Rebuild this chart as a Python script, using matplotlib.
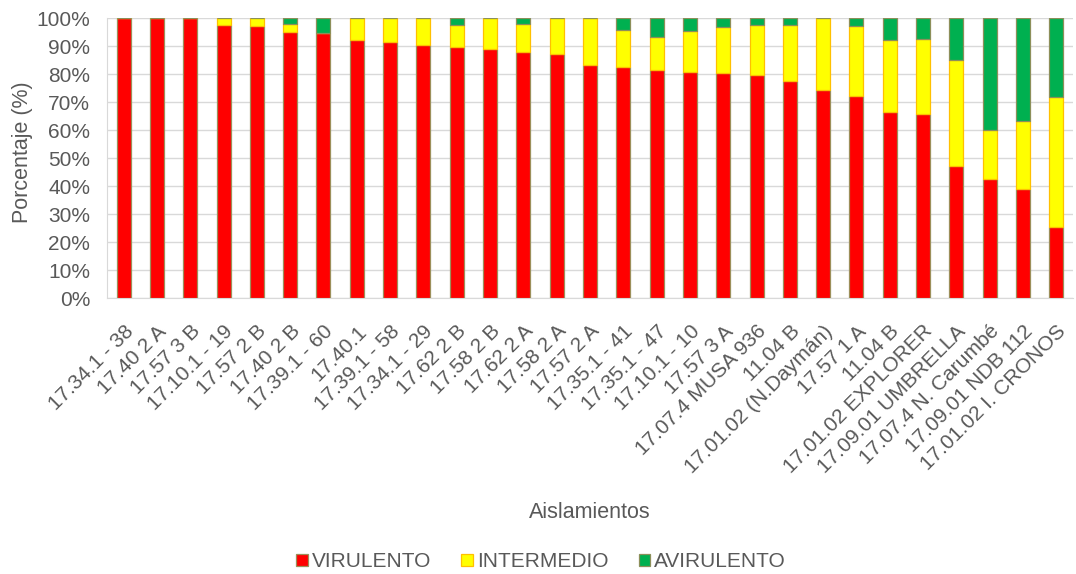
import matplotlib.pyplot as plt
import numpy as np

plt.rcParams['font.family'] = ['Liberation Sans', 'DejaVu Sans']

# Aislamientos y porcentajes por categoría
aislamientos = [
    "17.34.1 - 38", "17.40 2 A", "17.57 3 B", "17.10.1 - 19", "17.57 2 B",
    "17.40 2 B", "17.39.1 - 60", "17.40.1", "17.39.1 - 58", "17.34.1 - 29",
    "17.62 2 B", "17.58 2 B", "17.62 2 A", "17.58 2 A", "17.57 2 A",
    "17.35.1 - 41", "17.35.1 - 47", "17.10.1 - 10", "17.57 3 A", "17.07.4 MUSA 936",
    "11.04 B", "17.01.02 (N.Daymán)", "17.57 1 A", "11.04 B", "17.01.02 EXPLORER",
    "17.09.01 UMBRELLA", "17.07.4 N. Carumbé", "17.09.01 NDB 112", "17.01.02 I. CRONOS",
]
virulento = [100, 100, 100, 97.6, 97.1, 94.9, 94.5, 92.0, 91.5, 90.5,
             89.8, 88.9, 87.7, 87.0, 83.1, 82.5, 81.5, 80.7, 80.4, 79.8,
             77.4, 74.4, 72.0, 66.5, 65.7, 47.1, 42.4, 38.8, 25.5]
intermedio = [0, 0, 0, 2.4, 2.9, 3.0, 0, 8.0, 8.5, 9.5,
              7.7, 11.1, 10.0, 13.0, 16.9, 13.2, 11.6, 14.7, 16.4, 17.6,
              20.1, 25.6, 25.1, 25.7, 26.9, 37.9, 17.5, 24.4, 46.3]
avirulento = [0, 0, 0, 0, 0, 2.1, 5.5, 0, 0, 0,
              2.5, 0, 2.3, 0, 0, 4.3, 6.9, 4.6, 3.2, 2.6,
              2.5, 0, 2.9, 7.8, 7.4, 15.0, 40.1, 36.8, 28.2]

gris = '#595959'
x = np.arange(len(aislamientos))
v = np.array(virulento)
i = np.array(intermedio)
a = np.array(avirulento)

fig = plt.figure(figsize=(10.76, 5.74), dpi=100)
ax = fig.add_axes([0.0994, 0.4808, 0.8978, 0.4878])

ancho = 0.42
b1 = ax.bar(x, v, ancho, color='#FF0000', edgecolor='#9C8F5A', linewidth=0.9,
            label='VIRULENTO', zorder=3)
b2 = ax.bar(x, i, ancho, bottom=v, color='#FFFF00', edgecolor='#FFC000', linewidth=0.9,
            label='INTERMEDIO', zorder=3)
b3 = ax.bar(x, a, ancho, bottom=v + i, color='#00B050', edgecolor='#8C8F5A', linewidth=0.9,
            label='AVIRULENTO', zorder=3)

ax.set_xlim(-0.5, len(aislamientos) - 0.5)
ax.set_ylim(0, 100)
ax.set_yticks(np.arange(0, 101, 10))
ax.set_yticklabels([f'{t}%' for t in range(0, 101, 10)])
ax.grid(axis='y', color='#D9D9D9', linewidth=1, zorder=0)
ax.set_xticks(x)
ax.set_xticklabels(aislamientos, rotation=45, ha='right', rotation_mode='anchor')
ax.tick_params(axis='both', length=0, labelsize=15, colors=gris)
ax.tick_params(axis='x', pad=17)
ax.tick_params(axis='y', pad=12)

for lado in ['top', 'right']:
    ax.spines[lado].set_visible(False)
ax.spines['left'].set_color('#D9D9D9')
ax.spines['bottom'].set_color('#D9D9D9')

fig.text(0.0205, 0.735, 'Porcentaje (%)', fontsize=15.5, color=gris,
         rotation=90, ha='center', va='center')
fig.text(0.5484, 0.108, 'Aislamientos', fontsize=15.5, color=gris, ha='center', va='center')

fig.legend(handles=[b1, b2, b3], loc='center', bbox_to_anchor=(0.503, 0.021), ncol=3,
           frameon=False, fontsize=15, labelcolor=gris, handlelength=0.55, handleheight=0.55,
           handletextpad=0.2, columnspacing=1.45)

fig.savefig('out.png', dpi=100)
